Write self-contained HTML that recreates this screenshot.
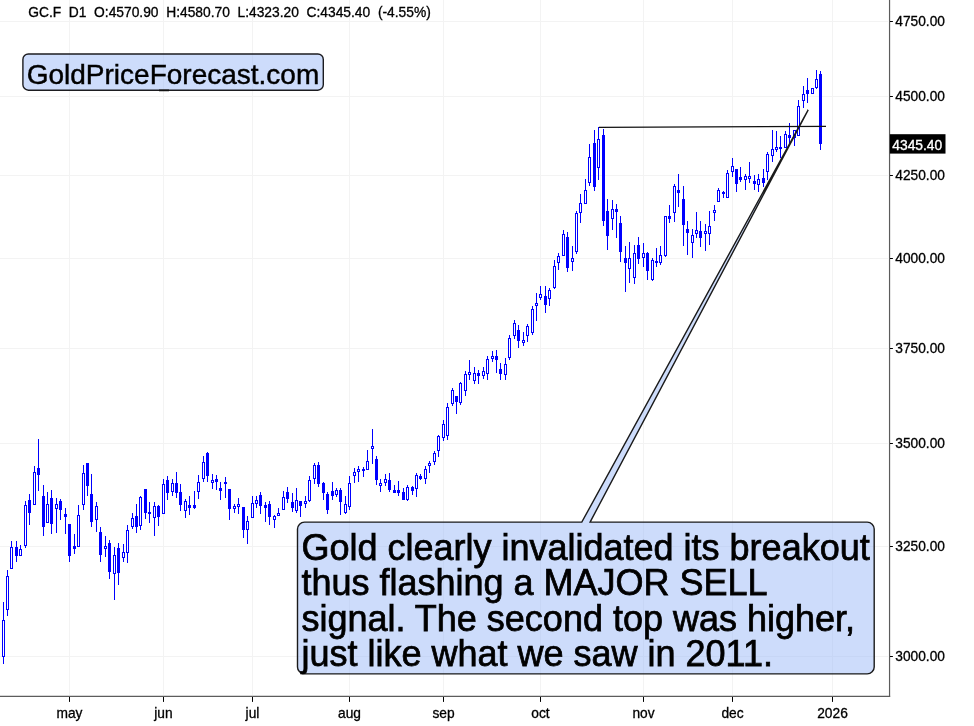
<!DOCTYPE html>
<html><head><meta charset="utf-8"><title>GC.F chart</title>
<style>html,body{margin:0;padding:0;background:#fff}svg{display:block}</style></head>
<body>
<svg width="974" height="726" viewBox="0 0 974 726" font-family='"Liberation Sans", Arial, Helvetica, sans-serif'>
<rect width="974" height="726" fill="#fff"/>
<g stroke="#f3f3f3" stroke-width="1">
<line x1="0" y1="21.50" x2="888" y2="21.50"/>
<line x1="0" y1="96.50" x2="888" y2="96.50"/>
<line x1="0" y1="175.50" x2="888" y2="175.50"/>
<line x1="0" y1="258.50" x2="888" y2="258.50"/>
<line x1="0" y1="348.50" x2="888" y2="348.50"/>
<line x1="0" y1="443.50" x2="888" y2="443.50"/>
<line x1="0" y1="546.50" x2="888" y2="546.50"/>
<line x1="0" y1="656.50" x2="888" y2="656.50"/>
<line x1="69.5" y1="0" x2="69.5" y2="695"/>
<line x1="163.5" y1="0" x2="163.5" y2="695"/>
<line x1="252.5" y1="0" x2="252.5" y2="695"/>
<line x1="349.5" y1="0" x2="349.5" y2="695"/>
<line x1="443.5" y1="0" x2="443.5" y2="695"/>
<line x1="540.5" y1="0" x2="540.5" y2="695"/>
<line x1="643.5" y1="0" x2="643.5" y2="695"/>
<line x1="732.5" y1="0" x2="732.5" y2="695"/>
<line x1="832.5" y1="0" x2="832.5" y2="695"/>
</g>
<g stroke="#0000ff" stroke-width="1" fill="none">
<line x1="3.5" y1="602" x2="3.5" y2="664"/>
<line x1="7.5" y1="570" x2="7.5" y2="616"/>
<line x1="11.5" y1="541" x2="11.5" y2="569"/>
<line x1="16.5" y1="541" x2="16.5" y2="562"/>
<line x1="20.5" y1="545" x2="20.5" y2="556"/>
<line x1="25.5" y1="501" x2="25.5" y2="548"/>
<line x1="29.5" y1="494" x2="29.5" y2="525"/>
<line x1="34.5" y1="466" x2="34.5" y2="505"/>
<line x1="38.5" y1="439" x2="38.5" y2="491"/>
<line x1="43.5" y1="485" x2="43.5" y2="536"/>
<line x1="47.5" y1="492" x2="47.5" y2="523"/>
<line x1="51.5" y1="490" x2="51.5" y2="534"/>
<line x1="56.5" y1="498" x2="56.5" y2="533"/>
<line x1="60.5" y1="499" x2="60.5" y2="520"/>
<line x1="65.5" y1="508" x2="65.5" y2="534"/>
<line x1="69.5" y1="524" x2="69.5" y2="562"/>
<line x1="74.5" y1="534" x2="74.5" y2="554"/>
<line x1="78.5" y1="505" x2="78.5" y2="547"/>
<line x1="83.5" y1="465" x2="83.5" y2="510"/>
<line x1="87.5" y1="463" x2="87.5" y2="496"/>
<line x1="91.5" y1="474" x2="91.5" y2="527"/>
<line x1="96.5" y1="502" x2="96.5" y2="532"/>
<line x1="100.5" y1="527" x2="100.5" y2="562"/>
<line x1="105.5" y1="536" x2="105.5" y2="557"/>
<line x1="109.5" y1="540" x2="109.5" y2="579"/>
<line x1="114.5" y1="547" x2="114.5" y2="600"/>
<line x1="118.5" y1="543" x2="118.5" y2="585"/>
<line x1="123.5" y1="544" x2="123.5" y2="562"/>
<line x1="127.5" y1="525" x2="127.5" y2="563"/>
<line x1="132.5" y1="513" x2="132.5" y2="529"/>
<line x1="136.5" y1="504" x2="136.5" y2="533"/>
<line x1="140.5" y1="496" x2="140.5" y2="530"/>
<line x1="145.5" y1="489" x2="145.5" y2="519"/>
<line x1="149.5" y1="502" x2="149.5" y2="523"/>
<line x1="154.5" y1="502" x2="154.5" y2="536"/>
<line x1="158.5" y1="505" x2="158.5" y2="526"/>
<line x1="163.5" y1="479" x2="163.5" y2="514"/>
<line x1="167.5" y1="476" x2="167.5" y2="500"/>
<line x1="172.5" y1="479" x2="172.5" y2="496"/>
<line x1="176.5" y1="472" x2="176.5" y2="498"/>
<line x1="180.5" y1="484" x2="180.5" y2="511"/>
<line x1="185.5" y1="499" x2="185.5" y2="518"/>
<line x1="189.5" y1="496" x2="189.5" y2="515"/>
<line x1="194.5" y1="491" x2="194.5" y2="509"/>
<line x1="198.5" y1="475" x2="198.5" y2="499"/>
<line x1="203.5" y1="456" x2="203.5" y2="482"/>
<line x1="207.5" y1="452" x2="207.5" y2="482"/>
<line x1="212.5" y1="474" x2="212.5" y2="489"/>
<line x1="216.5" y1="475" x2="216.5" y2="490"/>
<line x1="220.5" y1="482" x2="220.5" y2="500"/>
<line x1="225.5" y1="477" x2="225.5" y2="498"/>
<line x1="229.5" y1="489" x2="229.5" y2="520"/>
<line x1="234.5" y1="504" x2="234.5" y2="513"/>
<line x1="238.5" y1="498" x2="238.5" y2="514"/>
<line x1="243.5" y1="507" x2="243.5" y2="538"/>
<line x1="247.5" y1="516" x2="247.5" y2="544"/>
<line x1="252.5" y1="496" x2="252.5" y2="518"/>
<line x1="256.5" y1="496" x2="256.5" y2="508"/>
<line x1="260.5" y1="492" x2="260.5" y2="514"/>
<line x1="265.5" y1="502" x2="265.5" y2="522"/>
<line x1="269.5" y1="501" x2="269.5" y2="525"/>
<line x1="274.5" y1="515" x2="274.5" y2="528"/>
<line x1="278.5" y1="508" x2="278.5" y2="515"/>
<line x1="283.5" y1="491" x2="283.5" y2="510"/>
<line x1="287.5" y1="487" x2="287.5" y2="503"/>
<line x1="292.5" y1="493" x2="292.5" y2="512"/>
<line x1="296.5" y1="488" x2="296.5" y2="513"/>
<line x1="300.5" y1="501" x2="300.5" y2="517"/>
<line x1="305.5" y1="496" x2="305.5" y2="508"/>
<line x1="309.5" y1="476" x2="309.5" y2="502"/>
<line x1="314.5" y1="463" x2="314.5" y2="484"/>
<line x1="318.5" y1="462" x2="318.5" y2="487"/>
<line x1="323.5" y1="482" x2="323.5" y2="500"/>
<line x1="327.5" y1="492" x2="327.5" y2="514"/>
<line x1="332.5" y1="482" x2="332.5" y2="500"/>
<line x1="336.5" y1="488" x2="336.5" y2="497"/>
<line x1="340.5" y1="488" x2="340.5" y2="515"/>
<line x1="345.5" y1="496" x2="345.5" y2="514"/>
<line x1="349.5" y1="476" x2="349.5" y2="510"/>
<line x1="354.5" y1="468" x2="354.5" y2="483"/>
<line x1="358.5" y1="466" x2="358.5" y2="482"/>
<line x1="363.5" y1="467" x2="363.5" y2="477"/>
<line x1="367.5" y1="450" x2="367.5" y2="470"/>
<line x1="372.5" y1="429" x2="372.5" y2="464"/>
<line x1="376.5" y1="456" x2="376.5" y2="485"/>
<line x1="380.5" y1="479" x2="380.5" y2="492"/>
<line x1="385.5" y1="474" x2="385.5" y2="486"/>
<line x1="389.5" y1="473" x2="389.5" y2="492"/>
<line x1="394.5" y1="485" x2="394.5" y2="493"/>
<line x1="398.5" y1="481" x2="398.5" y2="496"/>
<line x1="403.5" y1="488" x2="403.5" y2="500"/>
<line x1="407.5" y1="485" x2="407.5" y2="501"/>
<line x1="412.5" y1="486" x2="412.5" y2="495"/>
<line x1="416.5" y1="473" x2="416.5" y2="497"/>
<line x1="420.5" y1="474" x2="420.5" y2="480"/>
<line x1="425.5" y1="466" x2="425.5" y2="484"/>
<line x1="429.5" y1="461" x2="429.5" y2="473"/>
<line x1="434.5" y1="451" x2="434.5" y2="465"/>
<line x1="438.5" y1="435" x2="438.5" y2="457"/>
<line x1="443.5" y1="420" x2="443.5" y2="441"/>
<line x1="447.5" y1="403" x2="447.5" y2="440"/>
<line x1="452.5" y1="388" x2="452.5" y2="406"/>
<line x1="456.5" y1="396" x2="456.5" y2="414"/>
<line x1="460.5" y1="382" x2="460.5" y2="405"/>
<line x1="465.5" y1="371" x2="465.5" y2="396"/>
<line x1="469.5" y1="360" x2="469.5" y2="380"/>
<line x1="474.5" y1="367" x2="474.5" y2="384"/>
<line x1="478.5" y1="370" x2="478.5" y2="384"/>
<line x1="483.5" y1="367" x2="483.5" y2="379"/>
<line x1="487.5" y1="356" x2="487.5" y2="380"/>
<line x1="492.5" y1="351" x2="492.5" y2="362"/>
<line x1="496.5" y1="350" x2="496.5" y2="373"/>
<line x1="500.5" y1="363" x2="500.5" y2="380"/>
<line x1="505.5" y1="358" x2="505.5" y2="380"/>
<line x1="509.5" y1="335" x2="509.5" y2="360"/>
<line x1="514.5" y1="320" x2="514.5" y2="339"/>
<line x1="518.5" y1="325" x2="518.5" y2="348"/>
<line x1="523.5" y1="332" x2="523.5" y2="346"/>
<line x1="527.5" y1="324" x2="527.5" y2="342"/>
<line x1="532.5" y1="306" x2="532.5" y2="335"/>
<line x1="536.5" y1="293" x2="536.5" y2="321"/>
<line x1="540.5" y1="286" x2="540.5" y2="300"/>
<line x1="545.5" y1="286" x2="545.5" y2="313"/>
<line x1="549.5" y1="288" x2="549.5" y2="306"/>
<line x1="554.5" y1="260" x2="554.5" y2="289"/>
<line x1="558.5" y1="253" x2="558.5" y2="270"/>
<line x1="563.5" y1="230" x2="563.5" y2="256"/>
<line x1="567.5" y1="232" x2="567.5" y2="272"/>
<line x1="572.5" y1="246" x2="572.5" y2="271"/>
<line x1="576.5" y1="211" x2="576.5" y2="254"/>
<line x1="580.5" y1="194" x2="580.5" y2="223"/>
<line x1="585.5" y1="179" x2="585.5" y2="204"/>
<line x1="589.5" y1="144" x2="589.5" y2="186"/>
<line x1="594.5" y1="130" x2="594.5" y2="191"/>
<line x1="598.5" y1="127" x2="598.5" y2="180"/>
<line x1="603.5" y1="129" x2="603.5" y2="226"/>
<line x1="607.5" y1="199" x2="607.5" y2="250"/>
<line x1="612.5" y1="200" x2="612.5" y2="230"/>
<line x1="616.5" y1="204" x2="616.5" y2="238"/>
<line x1="620.5" y1="216" x2="620.5" y2="262"/>
<line x1="625.5" y1="246" x2="625.5" y2="292"/>
<line x1="629.5" y1="242" x2="629.5" y2="283"/>
<line x1="634.5" y1="245" x2="634.5" y2="284"/>
<line x1="638.5" y1="237" x2="638.5" y2="264"/>
<line x1="643.5" y1="243" x2="643.5" y2="267"/>
<line x1="647.5" y1="252" x2="647.5" y2="280"/>
<line x1="652.5" y1="258" x2="652.5" y2="281"/>
<line x1="656.5" y1="248" x2="656.5" y2="267"/>
<line x1="660.5" y1="246" x2="660.5" y2="265"/>
<line x1="665.5" y1="216" x2="665.5" y2="257"/>
<line x1="669.5" y1="205" x2="669.5" y2="223"/>
<line x1="674.5" y1="184" x2="674.5" y2="222"/>
<line x1="678.5" y1="174" x2="678.5" y2="207"/>
<line x1="683.5" y1="186" x2="683.5" y2="246"/>
<line x1="687.5" y1="221" x2="687.5" y2="255"/>
<line x1="692.5" y1="229" x2="692.5" y2="258"/>
<line x1="696.5" y1="212" x2="696.5" y2="238"/>
<line x1="700.5" y1="221" x2="700.5" y2="247"/>
<line x1="705.5" y1="224" x2="705.5" y2="251"/>
<line x1="709.5" y1="211" x2="709.5" y2="245"/>
<line x1="714.5" y1="205" x2="714.5" y2="221"/>
<line x1="718.5" y1="188" x2="718.5" y2="202"/>
<line x1="723.5" y1="191" x2="723.5" y2="198"/>
<line x1="727.5" y1="170" x2="727.5" y2="198"/>
<line x1="732.5" y1="158" x2="732.5" y2="177"/>
<line x1="736.5" y1="169" x2="736.5" y2="192"/>
<line x1="740.5" y1="167" x2="740.5" y2="182"/>
<line x1="745.5" y1="174" x2="745.5" y2="190"/>
<line x1="749.5" y1="162" x2="749.5" y2="183"/>
<line x1="754.5" y1="175" x2="754.5" y2="190"/>
<line x1="758.5" y1="174" x2="758.5" y2="192"/>
<line x1="763.5" y1="169" x2="763.5" y2="187"/>
<line x1="767.5" y1="152" x2="767.5" y2="180"/>
<line x1="772.5" y1="130" x2="772.5" y2="162"/>
<line x1="776.5" y1="131" x2="776.5" y2="152"/>
<line x1="780.5" y1="136" x2="780.5" y2="158"/>
<line x1="785.5" y1="131" x2="785.5" y2="148"/>
<line x1="789.5" y1="123" x2="789.5" y2="143"/>
<line x1="794.5" y1="130" x2="794.5" y2="146"/>
<line x1="798.5" y1="100" x2="798.5" y2="136"/>
<line x1="803.5" y1="86" x2="803.5" y2="108"/>
<line x1="807.5" y1="78" x2="807.5" y2="103"/>
<line x1="812.5" y1="88" x2="812.5" y2="94"/>
<line x1="816.5" y1="70" x2="816.5" y2="89"/>
<line x1="820.5" y1="71" x2="820.5" y2="150"/>
</g>
<g>
<rect x="2.5" y="620.5" width="2" height="36" fill="#fff" stroke="#0000ff" stroke-width="1"/>
<rect x="6.5" y="576.5" width="2" height="33" fill="#fff" stroke="#0000ff" stroke-width="1"/>
<rect x="10.5" y="547.5" width="2" height="21" fill="#fff" stroke="#0000ff" stroke-width="1"/>
<rect x="15.0" y="547" width="3" height="9" fill="#0000ff"/>
<rect x="19.5" y="549.5" width="2" height="6" fill="#fff" stroke="#0000ff" stroke-width="1"/>
<rect x="24.5" y="505.5" width="2" height="40" fill="#fff" stroke="#0000ff" stroke-width="1"/>
<rect x="28.0" y="500" width="3" height="13" fill="#0000ff"/>
<rect x="33.5" y="472.5" width="2" height="32" fill="#fff" stroke="#0000ff" stroke-width="1"/>
<rect x="37.0" y="468" width="3" height="7" fill="#0000ff"/>
<rect x="42.0" y="496" width="3" height="31" fill="#0000ff"/>
<rect x="46.5" y="504.5" width="2" height="18" fill="#fff" stroke="#0000ff" stroke-width="1"/>
<rect x="50.0" y="498" width="3" height="26" fill="#0000ff"/>
<rect x="55.5" y="504.5" width="2" height="4" fill="#fff" stroke="#0000ff" stroke-width="1"/>
<rect x="59.0" y="501" width="3" height="9" fill="#0000ff"/>
<rect x="64.0" y="514" width="3" height="3" fill="#0000ff"/>
<rect x="68.0" y="524" width="3" height="32" fill="#0000ff"/>
<rect x="73.0" y="546" width="3" height="3" fill="#0000ff"/>
<rect x="77.5" y="515.5" width="2" height="31" fill="#fff" stroke="#0000ff" stroke-width="1"/>
<rect x="82.5" y="473.5" width="2" height="31" fill="#fff" stroke="#0000ff" stroke-width="1"/>
<rect x="86.0" y="463" width="3" height="23" fill="#0000ff"/>
<rect x="90.0" y="494" width="3" height="28" fill="#0000ff"/>
<rect x="95.5" y="506.5" width="2" height="13" fill="#fff" stroke="#0000ff" stroke-width="1"/>
<rect x="99.0" y="532" width="3" height="23" fill="#0000ff"/>
<rect x="104.5" y="546.5" width="2" height="2" fill="#fff" stroke="#0000ff" stroke-width="1"/>
<rect x="108.0" y="543" width="3" height="29" fill="#0000ff"/>
<rect x="113.5" y="555.5" width="2" height="18" fill="#fff" stroke="#0000ff" stroke-width="1"/>
<rect x="117.0" y="548" width="3" height="25" fill="#0000ff"/>
<rect x="122.5" y="552.5" width="2" height="5" fill="#fff" stroke="#0000ff" stroke-width="1"/>
<rect x="126.5" y="530.5" width="2" height="22" fill="#fff" stroke="#0000ff" stroke-width="1"/>
<rect x="131.5" y="518.5" width="2" height="8" fill="#fff" stroke="#0000ff" stroke-width="1"/>
<rect x="135.0" y="516" width="3" height="11" fill="#0000ff"/>
<rect x="139.5" y="497.5" width="2" height="28" fill="#fff" stroke="#0000ff" stroke-width="1"/>
<rect x="144.0" y="489" width="3" height="24" fill="#0000ff"/>
<rect x="148.0" y="512" width="3" height="2" fill="#0000ff"/>
<rect x="153.5" y="506.5" width="2" height="11" fill="#fff" stroke="#0000ff" stroke-width="1"/>
<rect x="157.0" y="506" width="3" height="11" fill="#0000ff"/>
<rect x="162.5" y="484.5" width="2" height="29" fill="#fff" stroke="#0000ff" stroke-width="1"/>
<rect x="166.0" y="480" width="3" height="13" fill="#0000ff"/>
<rect x="171.5" y="483.5" width="2" height="8" fill="#fff" stroke="#0000ff" stroke-width="1"/>
<rect x="175.0" y="483" width="3" height="10" fill="#0000ff"/>
<rect x="179.0" y="492" width="3" height="13" fill="#0000ff"/>
<rect x="184.5" y="501.5" width="2" height="9" fill="#fff" stroke="#0000ff" stroke-width="1"/>
<rect x="188.0" y="505" width="3" height="3" fill="#0000ff"/>
<rect x="193.0" y="505" width="3" height="3" fill="#0000ff"/>
<rect x="197.5" y="482.5" width="2" height="9" fill="#fff" stroke="#0000ff" stroke-width="1"/>
<rect x="202.5" y="462.5" width="2" height="16" fill="#fff" stroke="#0000ff" stroke-width="1"/>
<rect x="206.0" y="453" width="3" height="23" fill="#0000ff"/>
<rect x="211.5" y="480.5" width="2" height="2" fill="#fff" stroke="#0000ff" stroke-width="1"/>
<rect x="215.0" y="479" width="3" height="3" fill="#0000ff"/>
<rect x="219.0" y="488" width="3" height="3" fill="#0000ff"/>
<rect x="224.0" y="482" width="3" height="2" fill="#0000ff"/>
<rect x="228.0" y="489" width="3" height="20" fill="#0000ff"/>
<rect x="233.5" y="506.5" width="2" height="2" fill="#fff" stroke="#0000ff" stroke-width="1"/>
<rect x="237.5" y="504.5" width="2" height="2" fill="#fff" stroke="#0000ff" stroke-width="1"/>
<rect x="242.0" y="507" width="3" height="23" fill="#0000ff"/>
<rect x="246.5" y="521.5" width="2" height="8" fill="#fff" stroke="#0000ff" stroke-width="1"/>
<rect x="251.5" y="503.5" width="2" height="14" fill="#fff" stroke="#0000ff" stroke-width="1"/>
<rect x="255.5" y="500.5" width="2" height="3" fill="#fff" stroke="#0000ff" stroke-width="1"/>
<rect x="259.0" y="495" width="3" height="11" fill="#0000ff"/>
<rect x="264.0" y="505" width="3" height="3" fill="#0000ff"/>
<rect x="268.0" y="504" width="3" height="13" fill="#0000ff"/>
<rect x="273.5" y="516.5" width="2" height="3" fill="#fff" stroke="#0000ff" stroke-width="1"/>
<rect x="277.5" y="513.5" width="2" height="2" fill="#fff" stroke="#0000ff" stroke-width="1"/>
<rect x="282.5" y="497.5" width="2" height="12" fill="#fff" stroke="#0000ff" stroke-width="1"/>
<rect x="286.0" y="492" width="3" height="7" fill="#0000ff"/>
<rect x="291.0" y="502" width="3" height="6" fill="#0000ff"/>
<rect x="295.5" y="500.5" width="2" height="10" fill="#fff" stroke="#0000ff" stroke-width="1"/>
<rect x="299.0" y="501" width="3" height="5" fill="#0000ff"/>
<rect x="304.5" y="501.5" width="2" height="2" fill="#fff" stroke="#0000ff" stroke-width="1"/>
<rect x="308.5" y="480.5" width="2" height="20" fill="#fff" stroke="#0000ff" stroke-width="1"/>
<rect x="313.5" y="465.5" width="2" height="13" fill="#fff" stroke="#0000ff" stroke-width="1"/>
<rect x="317.0" y="465" width="3" height="19" fill="#0000ff"/>
<rect x="322.0" y="483" width="3" height="10" fill="#0000ff"/>
<rect x="326.0" y="494" width="3" height="16" fill="#0000ff"/>
<rect x="331.0" y="491" width="3" height="5" fill="#0000ff"/>
<rect x="335.5" y="490.5" width="2" height="4" fill="#fff" stroke="#0000ff" stroke-width="1"/>
<rect x="339.0" y="490" width="3" height="12" fill="#0000ff"/>
<rect x="344.5" y="504.5" width="2" height="8" fill="#fff" stroke="#0000ff" stroke-width="1"/>
<rect x="348.5" y="483.5" width="2" height="23" fill="#fff" stroke="#0000ff" stroke-width="1"/>
<rect x="353.5" y="472.5" width="2" height="3" fill="#fff" stroke="#0000ff" stroke-width="1"/>
<rect x="357.5" y="469.5" width="2" height="2" fill="#fff" stroke="#0000ff" stroke-width="1"/>
<rect x="362.0" y="469" width="3" height="2" fill="#0000ff"/>
<rect x="366.5" y="461.5" width="2" height="8" fill="#fff" stroke="#0000ff" stroke-width="1"/>
<rect x="371.5" y="446.5" width="2" height="2" fill="#fff" stroke="#0000ff" stroke-width="1"/>
<rect x="375.0" y="459" width="3" height="21" fill="#0000ff"/>
<rect x="379.5" y="483.5" width="2" height="2" fill="#fff" stroke="#0000ff" stroke-width="1"/>
<rect x="384.5" y="479.5" width="2" height="3" fill="#fff" stroke="#0000ff" stroke-width="1"/>
<rect x="388.0" y="480" width="3" height="10" fill="#0000ff"/>
<rect x="393.0" y="490" width="3" height="3" fill="#0000ff"/>
<rect x="397.0" y="490" width="3" height="3" fill="#0000ff"/>
<rect x="402.0" y="492" width="3" height="8" fill="#0000ff"/>
<rect x="406.5" y="487.5" width="2" height="12" fill="#fff" stroke="#0000ff" stroke-width="1"/>
<rect x="411.0" y="487" width="3" height="4" fill="#0000ff"/>
<rect x="415.5" y="475.5" width="2" height="13" fill="#fff" stroke="#0000ff" stroke-width="1"/>
<rect x="419.0" y="476" width="3" height="3" fill="#0000ff"/>
<rect x="424.5" y="469.5" width="2" height="9" fill="#fff" stroke="#0000ff" stroke-width="1"/>
<rect x="428.5" y="463.5" width="2" height="2" fill="#fff" stroke="#0000ff" stroke-width="1"/>
<rect x="433.5" y="453.5" width="2" height="8" fill="#fff" stroke="#0000ff" stroke-width="1"/>
<rect x="437.5" y="436.5" width="2" height="14" fill="#fff" stroke="#0000ff" stroke-width="1"/>
<rect x="442.5" y="424.5" width="2" height="13" fill="#fff" stroke="#0000ff" stroke-width="1"/>
<rect x="446.5" y="407.5" width="2" height="28" fill="#fff" stroke="#0000ff" stroke-width="1"/>
<rect x="451.5" y="390.5" width="2" height="13" fill="#fff" stroke="#0000ff" stroke-width="1"/>
<rect x="455.0" y="396" width="3" height="6" fill="#0000ff"/>
<rect x="459.5" y="383.5" width="2" height="19" fill="#fff" stroke="#0000ff" stroke-width="1"/>
<rect x="464.5" y="374.5" width="2" height="16" fill="#fff" stroke="#0000ff" stroke-width="1"/>
<rect x="468.5" y="372.5" width="2" height="2" fill="#fff" stroke="#0000ff" stroke-width="1"/>
<rect x="473.5" y="373.5" width="2" height="7" fill="#fff" stroke="#0000ff" stroke-width="1"/>
<rect x="477.0" y="373" width="3" height="3" fill="#0000ff"/>
<rect x="482.5" y="371.5" width="2" height="4" fill="#fff" stroke="#0000ff" stroke-width="1"/>
<rect x="486.5" y="359.5" width="2" height="14" fill="#fff" stroke="#0000ff" stroke-width="1"/>
<rect x="491.5" y="356.5" width="2" height="2" fill="#fff" stroke="#0000ff" stroke-width="1"/>
<rect x="495.0" y="356" width="3" height="4" fill="#0000ff"/>
<rect x="499.0" y="369" width="3" height="5" fill="#0000ff"/>
<rect x="504.5" y="364.5" width="2" height="10" fill="#fff" stroke="#0000ff" stroke-width="1"/>
<rect x="508.5" y="338.5" width="2" height="19" fill="#fff" stroke="#0000ff" stroke-width="1"/>
<rect x="513.5" y="323.5" width="2" height="12" fill="#fff" stroke="#0000ff" stroke-width="1"/>
<rect x="517.0" y="330" width="3" height="11" fill="#0000ff"/>
<rect x="522.5" y="340.5" width="2" height="2" fill="#fff" stroke="#0000ff" stroke-width="1"/>
<rect x="526.5" y="326.5" width="2" height="9" fill="#fff" stroke="#0000ff" stroke-width="1"/>
<rect x="531.5" y="309.5" width="2" height="23" fill="#fff" stroke="#0000ff" stroke-width="1"/>
<rect x="535.5" y="303.5" width="2" height="2" fill="#fff" stroke="#0000ff" stroke-width="1"/>
<rect x="539.5" y="294.5" width="2" height="3" fill="#fff" stroke="#0000ff" stroke-width="1"/>
<rect x="544.0" y="296" width="3" height="9" fill="#0000ff"/>
<rect x="548.5" y="290.5" width="2" height="8" fill="#fff" stroke="#0000ff" stroke-width="1"/>
<rect x="553.5" y="266.5" width="2" height="21" fill="#fff" stroke="#0000ff" stroke-width="1"/>
<rect x="557.5" y="256.5" width="2" height="6" fill="#fff" stroke="#0000ff" stroke-width="1"/>
<rect x="562.5" y="234.5" width="2" height="21" fill="#fff" stroke="#0000ff" stroke-width="1"/>
<rect x="566.0" y="237" width="3" height="31" fill="#0000ff"/>
<rect x="571.5" y="258.5" width="2" height="3" fill="#fff" stroke="#0000ff" stroke-width="1"/>
<rect x="575.5" y="213.5" width="2" height="38" fill="#fff" stroke="#0000ff" stroke-width="1"/>
<rect x="579.5" y="203.5" width="2" height="9" fill="#fff" stroke="#0000ff" stroke-width="1"/>
<rect x="584.5" y="190.5" width="2" height="13" fill="#fff" stroke="#0000ff" stroke-width="1"/>
<rect x="588.5" y="157.5" width="2" height="25" fill="#fff" stroke="#0000ff" stroke-width="1"/>
<rect x="593.0" y="143" width="3" height="44" fill="#0000ff"/>
<rect x="597.5" y="139.5" width="2" height="28" fill="#fff" stroke="#0000ff" stroke-width="1"/>
<rect x="602.0" y="135" width="3" height="86" fill="#0000ff"/>
<rect x="606.0" y="211" width="3" height="25" fill="#0000ff"/>
<rect x="611.5" y="209.5" width="2" height="9" fill="#fff" stroke="#0000ff" stroke-width="1"/>
<rect x="615.0" y="209" width="3" height="3" fill="#0000ff"/>
<rect x="619.0" y="223" width="3" height="29" fill="#0000ff"/>
<rect x="624.0" y="258" width="3" height="5" fill="#0000ff"/>
<rect x="628.5" y="258.5" width="2" height="10" fill="#fff" stroke="#0000ff" stroke-width="1"/>
<rect x="633.5" y="253.5" width="2" height="24" fill="#fff" stroke="#0000ff" stroke-width="1"/>
<rect x="637.0" y="245" width="3" height="14" fill="#0000ff"/>
<rect x="642.5" y="253.5" width="2" height="4" fill="#fff" stroke="#0000ff" stroke-width="1"/>
<rect x="646.0" y="253" width="3" height="18" fill="#0000ff"/>
<rect x="651.5" y="260.5" width="2" height="19" fill="#fff" stroke="#0000ff" stroke-width="1"/>
<rect x="655.0" y="261" width="3" height="2" fill="#0000ff"/>
<rect x="659.5" y="255.5" width="2" height="7" fill="#fff" stroke="#0000ff" stroke-width="1"/>
<rect x="664.5" y="216.5" width="2" height="39" fill="#fff" stroke="#0000ff" stroke-width="1"/>
<rect x="668.0" y="216" width="3" height="3" fill="#0000ff"/>
<rect x="673.5" y="186.5" width="2" height="26" fill="#fff" stroke="#0000ff" stroke-width="1"/>
<rect x="677.0" y="190" width="3" height="3" fill="#0000ff"/>
<rect x="682.0" y="199" width="3" height="26" fill="#0000ff"/>
<rect x="686.0" y="229" width="3" height="4" fill="#0000ff"/>
<rect x="691.5" y="235.5" width="2" height="7" fill="#fff" stroke="#0000ff" stroke-width="1"/>
<rect x="695.5" y="230.5" width="2" height="3" fill="#fff" stroke="#0000ff" stroke-width="1"/>
<rect x="699.0" y="231" width="3" height="7" fill="#0000ff"/>
<rect x="704.5" y="231.5" width="2" height="2" fill="#fff" stroke="#0000ff" stroke-width="1"/>
<rect x="708.5" y="226.5" width="2" height="7" fill="#fff" stroke="#0000ff" stroke-width="1"/>
<rect x="713.5" y="210.5" width="2" height="2" fill="#fff" stroke="#0000ff" stroke-width="1"/>
<rect x="717.5" y="190.5" width="2" height="11" fill="#fff" stroke="#0000ff" stroke-width="1"/>
<rect x="722.0" y="192" width="3" height="2" fill="#0000ff"/>
<rect x="726.5" y="173.5" width="2" height="24" fill="#fff" stroke="#0000ff" stroke-width="1"/>
<rect x="731.5" y="166.5" width="2" height="5" fill="#fff" stroke="#0000ff" stroke-width="1"/>
<rect x="735.0" y="169" width="3" height="15" fill="#0000ff"/>
<rect x="739.0" y="177" width="3" height="3" fill="#0000ff"/>
<rect x="744.5" y="176.5" width="2" height="3" fill="#fff" stroke="#0000ff" stroke-width="1"/>
<rect x="748.5" y="176.5" width="2" height="2" fill="#fff" stroke="#0000ff" stroke-width="1"/>
<rect x="753.0" y="181" width="3" height="3" fill="#0000ff"/>
<rect x="757.5" y="179.5" width="2" height="5" fill="#fff" stroke="#0000ff" stroke-width="1"/>
<rect x="762.0" y="178" width="3" height="5" fill="#0000ff"/>
<rect x="766.5" y="154.5" width="2" height="17" fill="#fff" stroke="#0000ff" stroke-width="1"/>
<rect x="771.5" y="149.5" width="2" height="6" fill="#fff" stroke="#0000ff" stroke-width="1"/>
<rect x="775.5" y="147.5" width="2" height="2" fill="#fff" stroke="#0000ff" stroke-width="1"/>
<rect x="779.0" y="147" width="3" height="2" fill="#0000ff"/>
<rect x="784.5" y="134.5" width="2" height="13" fill="#fff" stroke="#0000ff" stroke-width="1"/>
<rect x="788.0" y="135" width="3" height="3" fill="#0000ff"/>
<rect x="793.5" y="130.5" width="2" height="7" fill="#fff" stroke="#0000ff" stroke-width="1"/>
<rect x="797.5" y="106.5" width="2" height="29" fill="#fff" stroke="#0000ff" stroke-width="1"/>
<rect x="802.5" y="94.5" width="2" height="6" fill="#fff" stroke="#0000ff" stroke-width="1"/>
<rect x="806.0" y="90" width="3" height="4" fill="#0000ff"/>
<rect x="811.5" y="88.5" width="2" height="5" fill="#fff" stroke="#0000ff" stroke-width="1"/>
<rect x="815.5" y="79.5" width="2" height="8" fill="#fff" stroke="#0000ff" stroke-width="1"/>
<rect x="819.0" y="74" width="3" height="70" fill="#0000ff"/>
</g>
<line x1="598.9" y1="127.4" x2="826" y2="126.35" stroke="#111" stroke-width="1.35"/>
<g stroke="#5c5c5c" stroke-width="1.2" fill="none">
<line x1="889.55" y1="0" x2="889.55" y2="697"/>
<line x1="0" y1="696.4" x2="890.15" y2="696.4"/>
</g>
<g stroke="#000" stroke-width="1">
<line x1="890" y1="21.50" x2="892.9" y2="21.50"/>
<line x1="890" y1="96.50" x2="892.9" y2="96.50"/>
<line x1="890" y1="175.50" x2="892.9" y2="175.50"/>
<line x1="890" y1="258.50" x2="892.9" y2="258.50"/>
<line x1="890" y1="348.50" x2="892.9" y2="348.50"/>
<line x1="890" y1="443.50" x2="892.9" y2="443.50"/>
<line x1="890" y1="546.50" x2="892.9" y2="546.50"/>
<line x1="890" y1="656.50" x2="892.9" y2="656.50"/>
<line x1="69.5" y1="697" x2="69.5" y2="701.9"/>
<line x1="163.5" y1="697" x2="163.5" y2="701.9"/>
<line x1="252.5" y1="697" x2="252.5" y2="701.9"/>
<line x1="349.5" y1="697" x2="349.5" y2="701.9"/>
<line x1="443.5" y1="697" x2="443.5" y2="701.9"/>
<line x1="540.5" y1="697" x2="540.5" y2="701.9"/>
<line x1="643.5" y1="697" x2="643.5" y2="701.9"/>
<line x1="732.5" y1="697" x2="732.5" y2="701.9"/>
<line x1="832.5" y1="697" x2="832.5" y2="701.9"/>
</g>
<g font-size="13.75" fill="#000" stroke="#000" stroke-width="0.3">
<text x="895.3" y="26.40" textLength="49.6" lengthAdjust="spacingAndGlyphs">4750.00</text>
<text x="895.3" y="101.40" textLength="49.6" lengthAdjust="spacingAndGlyphs">4500.00</text>
<text x="895.3" y="180.40" textLength="49.6" lengthAdjust="spacingAndGlyphs">4250.00</text>
<text x="895.3" y="263.40" textLength="49.6" lengthAdjust="spacingAndGlyphs">4000.00</text>
<text x="895.3" y="353.40" textLength="49.6" lengthAdjust="spacingAndGlyphs">3750.00</text>
<text x="895.3" y="448.40" textLength="49.6" lengthAdjust="spacingAndGlyphs">3500.00</text>
<text x="895.3" y="551.40" textLength="49.6" lengthAdjust="spacingAndGlyphs">3250.00</text>
<text x="895.3" y="661.40" textLength="49.6" lengthAdjust="spacingAndGlyphs">3000.00</text>
<text x="69.5" y="717.6" text-anchor="middle">may</text>
<text x="163.5" y="717.6" text-anchor="middle">jun</text>
<text x="252.5" y="717.6" text-anchor="middle">jul</text>
<text x="349.5" y="717.6" text-anchor="middle">aug</text>
<text x="443.5" y="717.6" text-anchor="middle">sep</text>
<text x="540.5" y="717.6" text-anchor="middle">oct</text>
<text x="643.5" y="717.6" text-anchor="middle">nov</text>
<text x="732.5" y="717.6" text-anchor="middle">dec</text>
<text x="832.5" y="717.6" text-anchor="middle">2026</text>
</g>
<rect x="889.9" y="134.2" width="55.6" height="19.4" fill="#000"/>
<text x="892.3" y="150.45" font-size="13.75" fill="#fff" stroke="#fff" stroke-width="0.35" textLength="49.9" lengthAdjust="spacingAndGlyphs">4345.40</text>
<text x="28.2" y="16.8" font-size="13.8" fill="#000" stroke="#000" stroke-width="0.3" xml:space="preserve" style="white-space:pre" textLength="402.6" lengthAdjust="spacing">GC.F  D1  O:4570.90  H:4580.70  L:4323.20  C:4345.40  (-4.55%)</text>
<rect x="22.9" y="54" width="300.4" height="36.2" rx="5.5" ry="5.5" fill="rgb(155,185,247)" fill-opacity="0.5" stroke="#1c1c20" stroke-width="1.4"/>
<text x="26.7" y="83.6" font-size="28" fill="#000" stroke="#000" stroke-width="0.45">GoldPriceForecast.com</text>
<line x1="159" y1="90.4" x2="169" y2="90.4" stroke="#111" stroke-width="1.7"/>
<path d="M304.5,522.1 L581.8,522.1 L808.2,109.9 L590.1,522.1 L867.2,522.1 A7,7 0 0 1 874.2,529.1 L874.2,666.9 A7,7 0 0 1 867.2,673.9 L304.5,673.9 A7,7 0 0 1 297.5,666.9 L297.5,529.1 A7,7 0 0 1 304.5,522.1 Z" fill="rgb(155,185,247)" fill-opacity="0.5" stroke="#1a1a1a" stroke-width="1.4" stroke-linejoin="miter"/>
<g font-size="36" fill="#000" stroke="#000" stroke-width="0.75">
<text x="301.4" y="559.6">Gold clearly invalidated its breakout</text>
<text x="301.4" y="595.1">thus flashing a MAJOR SELL</text>
<text x="301.4" y="630.9">signal. The second top was higher,</text>
<text x="301.4" y="666.4">just like what we saw in 2011.</text>
</g>
</svg>
</body></html>
